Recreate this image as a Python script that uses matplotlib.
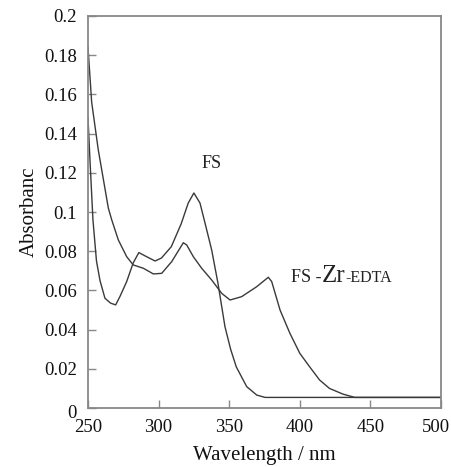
import matplotlib
matplotlib.use("Agg")
import matplotlib.pyplot as plt
import matplotlib.transforms as mtransforms

# FS curve (wavelength nm, absorbance)
fs_wl = [250, 251.5, 253.5, 256, 258.5, 262, 266, 269.6, 272.7, 277.4, 282, 286, 291.5,
         297.5, 302, 309, 316, 321, 325, 329.3, 333, 337.6, 342, 347, 351, 355, 362.4,
         369.5, 375.4, 400, 450, 500]
fs_abs = [0.148, 0.125, 0.096, 0.075, 0.065, 0.056, 0.0535, 0.0526, 0.057, 0.0645, 0.074,
          0.0793, 0.0772, 0.075, 0.0765, 0.0823, 0.094, 0.1046, 0.1097, 0.1046, 0.094,
          0.0806, 0.0638, 0.0415, 0.030, 0.021, 0.0109, 0.0066, 0.0054, 0.0054, 0.0054, 0.0054]

# FS-Zr-EDTA curve
fze_wl = [250, 252.6, 257.3, 264.4, 266.8, 271.5, 277.4, 282, 289.2, 296.3, 302.2, 309.3,
          317.5, 319.9, 324.6, 330.5, 337.6, 344.7, 350.6, 358.8, 369.5, 377.7, 380.1, 386,
          393, 400, 407, 414, 421, 430.5, 439, 450, 500]
fze_abs = [0.184, 0.156, 0.1316, 0.102, 0.096, 0.0857, 0.0772, 0.073, 0.0713, 0.0684,
           0.0687, 0.0747, 0.0843, 0.0832, 0.0772, 0.0713, 0.0653, 0.0585, 0.0551, 0.0568,
           0.0619, 0.0667, 0.0645, 0.050, 0.0381, 0.0279, 0.021, 0.0143, 0.010, 0.0071,
           0.0054, 0.0054, 0.0054]

x_ticks = [250, 300, 350, 400, 450, 500]
y_ticks = [0, 0.02, 0.04, 0.06, 0.08, 0.1, 0.12, 0.14, 0.16, 0.18, 0.2]
y_tick_labels = ["0", "0.02", "0.04", "0.06", "0.08", "0.1", "0.12", "0.14", "0.16", "0.18", "0.2"]

plt.rcParams['font.family'] = ['Liberation Serif', 'DejaVu Serif']

fig = plt.figure(figsize=(4.52, 4.67), dpi=100)
ax = fig.add_axes([88/452, 1-408/467, (441-88)/452, (408-16)/467])

line_col = '#3a3a3a'
ax.plot(fs_wl, fs_abs, color=line_col, lw=1.0)
ax.plot(fze_wl, fze_abs, color=line_col, lw=1.0)

ax.set_xlim(250, 500)
ax.set_ylim(0, 0.2)
ax.set_xticks(x_ticks)
ax.set_xticklabels([str(t) for t in x_ticks])
ax.set_yticks(y_ticks)
ax.set_yticklabels(y_tick_labels)

spine_col = '#888888'
for s in ax.spines.values():
    s.set_color(spine_col)
    s.set_linewidth(1.3)

ax.tick_params(axis='both', direction='in', length=6, width=1.0, color=spine_col,
               labelsize=13.5, labelcolor='#111111')
ax.tick_params(axis='x', pad=8)
ax.tick_params(axis='y', pad=8)
ax.tick_params(top=False, right=False)

# shift "0" y label down a bit, and "500" slightly left so it stays in the picture
lbl0 = ax.get_yticklabels()[0]
lbl0.set_transform(lbl0.get_transform() + mtransforms.ScaledTranslation(0, -4/100, fig.dpi_scale_trans))
lbl500 = ax.get_xticklabels()[-1]
lbl500.set_transform(lbl500.get_transform() + mtransforms.ScaledTranslation(-5/100, 0, fig.dpi_scale_trans))

ax.set_xlabel("Wavelength / nm", fontsize=15, color='#111111', labelpad=7)
ax.set_ylabel("Absorbanc", fontsize=15, color='#111111', labelpad=4)

ax.text(337.6, 0.125, "FS", fontsize=13, ha='center', va='center', color='#222222')

# Composite label FS-Zr-EDTA with mixed sizes
fig.canvas.draw()
renderer = fig.canvas.get_renderer()
x0_px, y0_px = ax.transData.transform((394, 0.0643))
parts = [("FS -", 13), ("Zr", 18), ("-EDTA", 11.5)]
xcur = x0_px
for txt, fsz in parts:
    t = ax.text(xcur, y0_px, txt, fontsize=fsz, ha='left', va='baseline', color='#222222',
                transform=None)
    bb = t.get_window_extent(renderer=renderer)
    xcur = bb.x1

fig.savefig("out.png", dpi=100)
